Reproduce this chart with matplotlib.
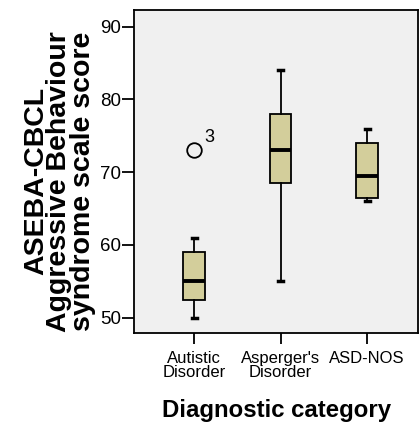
import matplotlib
matplotlib.use("Agg")
import matplotlib.pyplot as plt

plt.rcParams['font.family'] = ['Liberation Sans', 'DejaVu Sans']

# 诊断类别与箱线图统计值
categories = ["Autistic\nDisorder", "Asperger's\nDisorder", "ASD-NOS"]
whisker_low = [50, 55, 66]
q1 = [52.5, 68.5, 66.5]
median = [55, 73, 69.5]
q3 = [59, 78, 74]
whisker_high = [61, 84, 76]
outliers = [[73], [], []]
outlier_labels = [["3"], [], []]

stats = []
for i in range(len(categories)):
    stats.append({
        'whislo': whisker_low[i], 'q1': q1[i], 'med': median[i],
        'q3': q3[i], 'whishi': whisker_high[i], 'fliers': outliers[i],
    })

fig = plt.figure(figsize=(4.19, 4.23), dpi=100)
ax = fig.add_axes([0.32, 0.2128, 0.678, 0.7635])
ax.set_facecolor('#f0f0f0')

ax.bxp(stats, positions=[1, 2, 3], widths=0.25, patch_artist=True,
       boxprops=dict(facecolor='#d3ce9b', edgecolor='black', linewidth=1.3),
       medianprops=dict(color='black', linewidth=2.8),
       whiskerprops=dict(color='black', linewidth=1.3),
       capprops=dict(color='black', linewidth=2.5),
       capwidths=0.06,
       flierprops=dict(marker='o', markerfacecolor='none', markeredgecolor='black',
                       markersize=10.5, markeredgewidth=1.3))

# 异常值编号
for i, (vals, labs) in enumerate(zip(outliers, outlier_labels)):
    for v, lab in zip(vals, labs):
        ax.annotate(lab, (i + 1, v), xytext=(7.5, 6), textcoords='offset points',
                    fontsize=13, va='baseline', ha='left')

ax.set_xlim(0.306, 3.59)
ax.set_ylim(47.9, 92.3)
ax.set_yticks([50, 60, 70, 80, 90])
ax.set_xticks([1, 2, 3])
ax.set_xticklabels(categories, fontsize=12, linespacing=0.9)
ax.tick_params(axis='y', labelsize=13.5, length=8.5, width=1.3, pad=1)
ax.tick_params(axis='x', length=8, width=1.3, pad=5)
for s in ax.spines.values():
    s.set_linewidth(1.3)

ax.set_xlabel("Diagnostic category", fontsize=17.3, fontweight='bold', labelpad=14)
ax.set_ylabel("ASEBA-CBCL\nAggressive Behaviour\nsyndrome scale score",
              fontsize=20.5, fontweight='bold', linespacing=0.87, labelpad=3)
ax.yaxis.label.set_y(0.47)

fig.savefig("out.png", dpi=100)
